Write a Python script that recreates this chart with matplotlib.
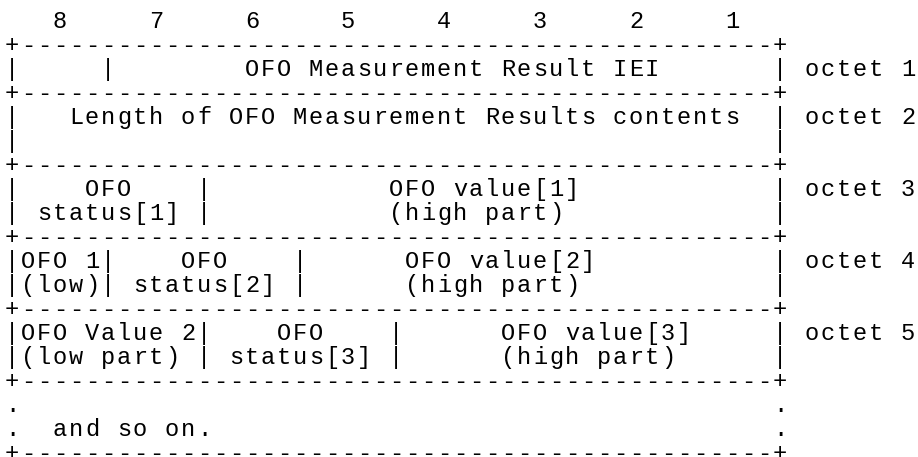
import matplotlib.pyplot as plt

# bit numbers across the top of the octet diagram
bit_numbers = [8, 7, 6, 5, 4, 3, 2, 1]

border = "+" + "-" * 47 + "+"

# one string per text row of the ascii box (49 columns each)
box_rows = [
    border,
    "|" + " " * 5 + "|" + " " * 8 + "OFO Measurement Result IEI" + " " * 7 + "|",
    border,
    "|" + " " * 3 + "Length of OFO Measurement Results contents" + " " * 2 + "|",
    "|" + " " * 47 + "|",
    border,
    "|" + " " * 4 + "OFO" + " " * 4 + "|" + " " * 11 + "OFO value[1]" + " " * 12 + "|",
    "|" + " " + "status[1]" + " " + "|" + " " * 11 + "(high part)" + " " * 13 + "|",
    border,
    "|OFO 1|" + " " * 4 + "OFO" + " " * 4 + "|" + " " * 6 + "OFO value[2]" + " " * 11 + "|",
    "|(low)|" + " " + "status[2]" + " " + "|" + " " * 6 + "(high part)" + " " * 12 + "|",
    border,
    "|OFO Value 2|" + " " * 4 + "OFO" + " " * 4 + "|" + " " * 6 + "OFO value[3]" + " " * 5 + "|",
    "|(low part) |" + " " + "status[3]" + " " + "|" + " " * 6 + "(high part)" + " " * 6 + "|",
    border,
    "." + " " * 47 + ".",
    ".  and so on." + " " * 35 + ".",
    border,
]

# octet label shown to the right of a given box row
octet_labels = ["", "octet 1", "", "octet 2", "", "", "octet 3", "", "",
                "octet 4", "", "", "octet 5", "", "", "", "", ""]

header = "   " + "     ".join(str(b) for b in bit_numbers)
lines = [header]
for row, lab in zip(box_rows, octet_labels):
    lines.append(row + (" " + lab if lab else ""))

W, H = 918, 457
fig = plt.figure(figsize=(W / 100, H / 100), dpi=100)
ax = fig.add_axes([0, 0, 1, 1])
ax.set_xlim(0, W)
ax.set_ylim(H, 0)
ax.axis("off")

char_w = 16
x0 = 12
y0 = 20
line_h = 24.05

for i, line in enumerate(lines):
    yb = y0 + line_h * i + 7.5
    for j, ch in enumerate(line):
        if ch == " ":
            continue
        ax.text(x0 + char_w * j, yb, ch, ha="center", va="baseline",
                fontsize=17, family="Liberation Mono", color="black")

fig.savefig("out.png", dpi=100, facecolor="white")
